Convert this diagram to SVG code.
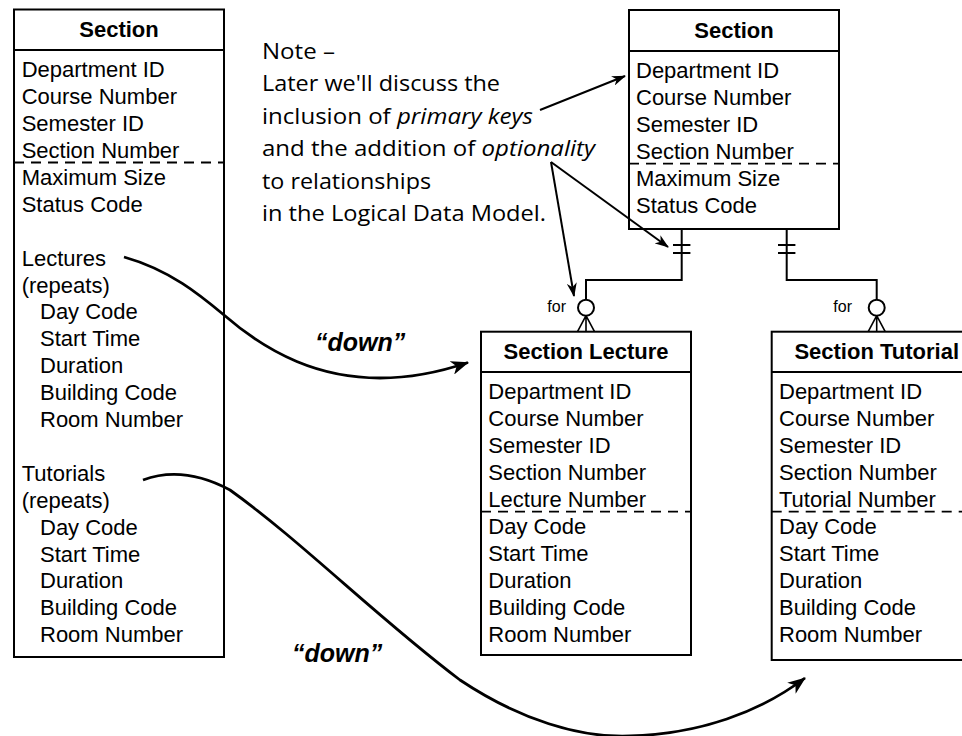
<svg xmlns="http://www.w3.org/2000/svg" width="962" height="736" viewBox="0 0 962 736">
<defs>
<style>
.box{fill:#fff;stroke:#000;stroke-width:2}
.sep{stroke:#000;stroke-width:2}
.dash{stroke:#000;stroke-width:1.8;stroke-dasharray:10 7}
.t{font-family:"Liberation Sans",Arial,sans-serif;font-size:22px;fill:#000}
.h{font-weight:bold;text-anchor:middle}
.for{font-family:"Liberation Sans",Arial,sans-serif;font-size:16px;fill:#000;text-anchor:end}
.note{font-family:"Open Sans","Noto Sans",sans-serif;font-size:22px;fill:#000}
.it{font-style:italic}
.down{font-family:"Liberation Sans",Arial,sans-serif;font-size:25px;font-weight:bold;font-style:italic;fill:#000}
.conn{fill:none;stroke:#000;stroke-width:2}
.thin{fill:none;stroke:#000;stroke-width:1.6}
.curve{fill:none;stroke:#000;stroke-width:2.8}
</style>
<marker id="big" viewBox="0 0 18 14" refX="17" refY="7" markerWidth="18" markerHeight="14" markerUnits="userSpaceOnUse" orient="auto"><path d="M0,0 L18,7 L0,14 L5,7 z" fill="#000"/></marker>
<marker id="small" viewBox="0 0 14 10" refX="13" refY="5" markerWidth="14" markerHeight="10" markerUnits="userSpaceOnUse" orient="auto"><path d="M0,0 L14,5 L0,10 L4,5 z" fill="#000"/></marker>
</defs>
<rect width="962" height="736" fill="#fff"/>

<g id="section-unnormalized">
<rect class="box" x="14" y="9.5" width="210" height="647.5"/>
<line class="sep" x1="14" y1="50" x2="224" y2="50"/>
<line class="dash" x1="14" y1="162.5" x2="224" y2="162.5"/>
<text class="t h" x="119" y="37">Section</text>
<text class="t" x="21.7" y="77.3">Department ID</text>
<text class="t" x="21.7" y="104.2">Course Number</text>
<text class="t" x="21.7" y="131.1">Semester ID</text>
<text class="t" x="21.7" y="158">Section Number</text>
<text class="t" x="21.7" y="184.9">Maximum Size</text>
<text class="t" x="21.7" y="211.8">Status Code</text>
<text class="t" x="21.7" y="265.6">Lectures</text>
<text class="t" x="21.7" y="292.5">(repeats)</text>
<text class="t" x="40" y="319.4">Day Code</text>
<text class="t" x="40" y="346.3">Start Time</text>
<text class="t" x="40" y="373.2">Duration</text>
<text class="t" x="40" y="400.1">Building Code</text>
<text class="t" x="40" y="427">Room Number</text>
<text class="t" x="21.7" y="480.8">Tutorials</text>
<text class="t" x="21.7" y="507.7">(repeats)</text>
<text class="t" x="40" y="534.6">Day Code</text>
<text class="t" x="40" y="561.5">Start Time</text>
<text class="t" x="40" y="588.4">Duration</text>
<text class="t" x="40" y="615.3">Building Code</text>
<text class="t" x="40" y="642.2">Room Number</text>
</g>

<g id="note">
<text class="note" x="262" y="59" textLength="73" lengthAdjust="spacingAndGlyphs">Note –</text>
<text class="note" x="262" y="91" textLength="238" lengthAdjust="spacingAndGlyphs">Later we'll discuss the</text>
<text class="note" x="262" y="123.5" textLength="271" lengthAdjust="spacingAndGlyphs">inclusion of <tspan class="it">primary keys</tspan></text>
<text class="note" x="262" y="156" textLength="333" lengthAdjust="spacingAndGlyphs">and the addition of <tspan class="it">optionality</tspan></text>
<text class="note" x="262" y="188.5" textLength="169" lengthAdjust="spacingAndGlyphs">to relationships</text>
<text class="note" x="262" y="221" textLength="284" lengthAdjust="spacingAndGlyphs">in the Logical Data Model.</text>
</g>

<g id="section">
<rect class="box" x="629" y="10" width="210" height="219"/>
<line class="sep" x1="629" y1="51" x2="839" y2="51"/>
<line class="dash" x1="629" y1="163.6" x2="839" y2="163.6"/>
<text class="t h" x="734" y="38">Section</text>
<text class="t" x="636" y="78">Department ID</text>
<text class="t" x="636" y="105">Course Number</text>
<text class="t" x="636" y="132">Semester ID</text>
<text class="t" x="636" y="159">Section Number</text>
<text class="t" x="636" y="186">Maximum Size</text>
<text class="t" x="636" y="213">Status Code</text>
</g>

<g id="section-lecture">
<rect class="box" x="481" y="331.7" width="210" height="323.3"/>
<line class="sep" x1="481" y1="372" x2="691" y2="372"/>
<line class="dash" x1="481" y1="511.6" x2="691" y2="511.6"/>
<text class="t h" x="586" y="358.7">Section Lecture</text>
<text class="t" x="488.3" y="399">Department ID</text>
<text class="t" x="488.3" y="426">Course Number</text>
<text class="t" x="488.3" y="453">Semester ID</text>
<text class="t" x="488.3" y="480">Section Number</text>
<text class="t" x="488.3" y="507">Lecture Number</text>
<text class="t" x="488.3" y="534">Day Code</text>
<text class="t" x="488.3" y="561">Start Time</text>
<text class="t" x="488.3" y="588">Duration</text>
<text class="t" x="488.3" y="615">Building Code</text>
<text class="t" x="488.3" y="642">Room Number</text>
</g>

<g id="section-tutorial">
<rect class="box" x="771.7" y="331.7" width="210" height="328.3"/>
<line class="sep" x1="771.7" y1="372" x2="981.7" y2="372"/>
<line class="dash" x1="771.7" y1="511.6" x2="981.7" y2="511.6"/>
<text class="t h" x="876.7" y="358.7">Section Tutorial</text>
<text class="t" x="779" y="399">Department ID</text>
<text class="t" x="779" y="426">Course Number</text>
<text class="t" x="779" y="453">Semester ID</text>
<text class="t" x="779" y="480">Section Number</text>
<text class="t" x="779" y="507">Tutorial Number</text>
<text class="t" x="779" y="534">Day Code</text>
<text class="t" x="779" y="561">Start Time</text>
<text class="t" x="779" y="588">Duration</text>
<text class="t" x="779" y="615">Building Code</text>
<text class="t" x="779" y="642">Room Number</text>
</g>

<g id="connectors">
<path class="conn" d="M681.7,229 V280 H586 V299.7"/>
<line class="conn" x1="673" y1="245" x2="690.4" y2="245"/>
<line class="conn" x1="673" y1="253" x2="690.4" y2="253"/>
<circle class="conn" cx="586" cy="307.7" r="8"/>
<path class="thin" d="M586,315.7 L577.5,331.7 M586,315.7 L586,331.7 M586,315.7 L594.5,331.7"/>
<text class="for" x="566" y="312">for</text>
<path class="conn" d="M786.7,229 V280 H876.7 V299.7"/>
<line class="conn" x1="778" y1="245" x2="795.4" y2="245"/>
<line class="conn" x1="778" y1="253" x2="795.4" y2="253"/>
<circle class="conn" cx="876.7" cy="307.7" r="8"/>
<path class="thin" d="M876.7,315.7 L868.2,331.7 M876.7,315.7 L876.7,331.7 M876.7,315.7 L885.2,331.7"/>
<text class="for" x="852" y="312">for</text>
<line class="conn" x1="540" y1="110" x2="625" y2="76" marker-end="url(#small)"/>
<line class="conn" x1="551" y1="162" x2="668" y2="247" marker-end="url(#small)"/>
<line class="conn" x1="551" y1="162" x2="574" y2="296" marker-end="url(#small)"/>
<path class="curve" d="M124,257 C170,270 200,295 224,315 C270,355 320,378 380,378 C410,378 440,372 468,362.5" marker-end="url(#big)"/>
<text class="down" x="315" y="351">“down”</text>
<path class="curve" d="M143,480 C170,470 200,474 230,490 C300,540 380,620 460,680 C520,720 580,738 630,736 C700,734 760,712 805,678" marker-end="url(#big)"/>
<text class="down" x="292" y="662">“down”</text>
</g>
</svg>
